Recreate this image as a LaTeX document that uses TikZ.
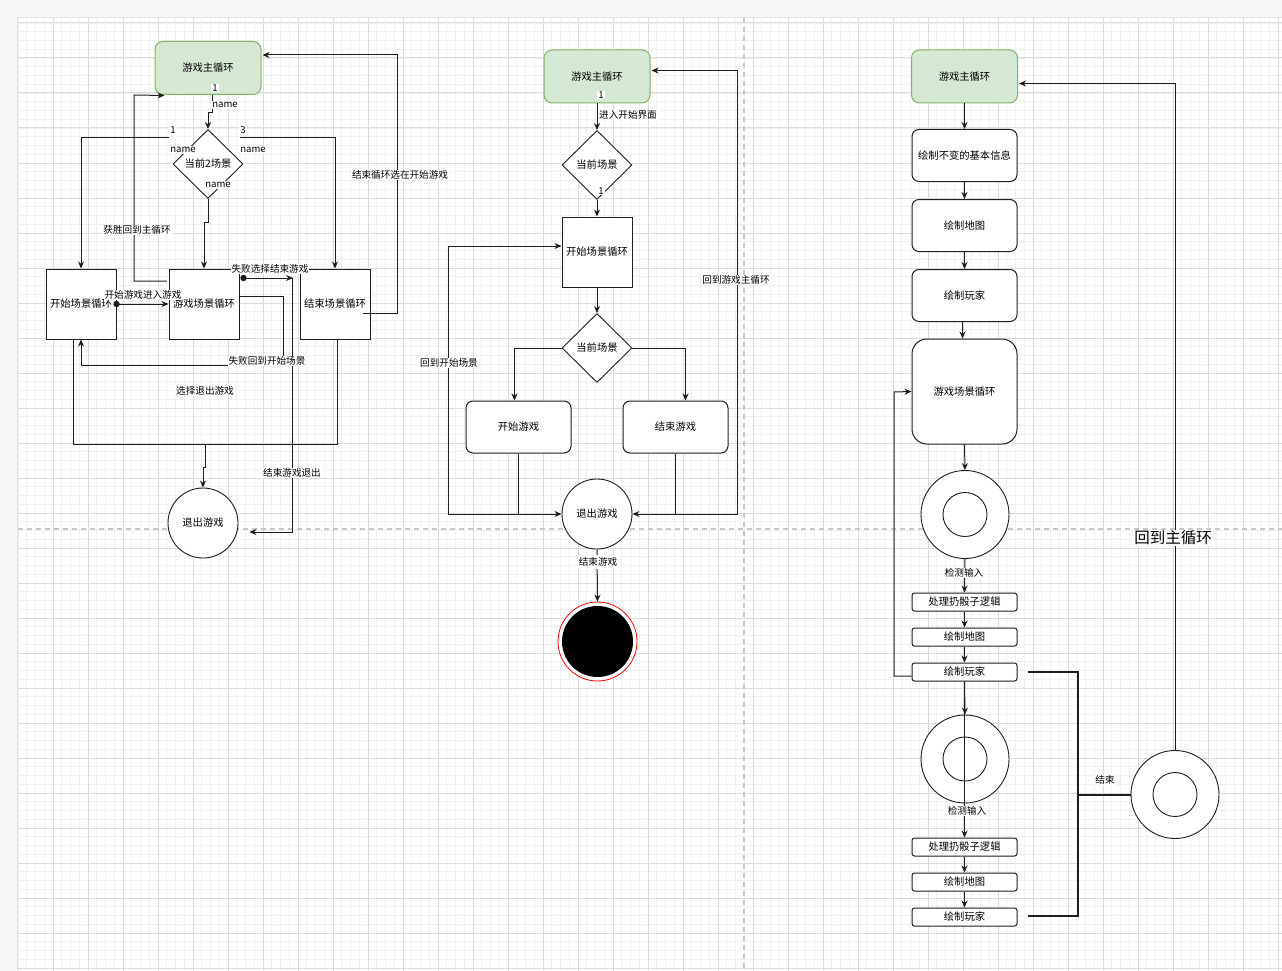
\documentclass[tikz,border=0pt]{standalone}
\usepackage{fontspec}
\setmainfont{Noto Sans CJK SC}
\usetikzlibrary{arrows.meta,shapes.geometric,calc}
\definecolor{lc}{HTML}{1E1E1E}
\definecolor{gfill}{HTML}{D5E8D4}
\definecolor{gedge}{HTML}{82B366}
\definecolor{minorc}{HTML}{F1F1F1}
\definecolor{majorc}{HTML}{DCDCDC}
\definecolor{outerc}{HTML}{F7F7F7}
\definecolor{pbc}{HTML}{C8C8C8}
\tikzset{
  edge/.style={draw=lc, line width=1pt, -{Stealth[length=7pt,width=6pt]}},
  ln/.style={draw=lc, line width=1pt},
  thick2/.style={draw=lc, line width=2pt},
  lbl/.style={fill=white, inner sep=1pt, font=\fontsize{9.6}{11}\selectfont, text=black},
  mainbox/.style={draw=gedge, fill=gfill, line width=1pt, rounded corners=8pt, minimum width=106pt, minimum height=53pt, inner sep=1pt},
  sq/.style={draw=lc, fill=white, line width=1pt, minimum width=70pt, minimum height=70pt, inner sep=0.5pt},
  dia/.style={diamond, draw=lc, fill=white, line width=0.9pt, minimum width=70pt, minimum height=69pt, inner sep=0pt, aspect=1},
  rbox/.style={draw=lc, fill=white, line width=1pt, rounded corners=7pt, minimum width=105pt, minimum height=52pt, inner sep=1pt},
  bigbox/.style={draw=lc, fill=white, line width=1pt, rounded corners=15pt, minimum width=105pt, minimum height=105pt, inner sep=1pt},
  sbox/.style={draw=lc, fill=white, line width=1pt, rounded corners=2.5pt, minimum width=105pt, minimum height=18pt, inner sep=0pt},
  circ/.style={circle, draw=lc, fill=white, line width=0.9pt, minimum size=70pt, inner sep=0pt},
  ring/.style={circle, draw=lc, fill=white, line width=0.9pt, minimum size=88pt, inner sep=0pt},
  minorl/.style={draw=minorc, line width=0.8pt},
  majorl/.style={draw=majorc, line width=1pt},
  pagebreak/.style={draw=pbc, line width=1.5pt, dash pattern=on 5pt off 4pt},
}
\begin{document}
\begin{tikzpicture}[x=1pt,y=-1pt, font=\fontsize{10.3}{12}\selectfont]
\useasboundingbox (0,0) rectangle (1282,971);
% background
\fill[outerc] (0,0) rectangle (1282,971);
\fill[white] (18,18) rectangle (1282,971);
\draw[draw=black!12, line width=1pt] (17.5,971) -- (17.5,17.5) -- (1282,17.5);
\foreach \k in {0,...,144} { \pgfmathsetmacro\xx{18+8.75*\k} \draw[minorl] (\xx,18) -- (\xx,971); }
\foreach \k in {0,...,108} { \pgfmathsetmacro\yy{23+8.75*\k} \draw[minorl] (18,\yy) -- (1282,\yy); }
\foreach \k in {1,...,36} { \pgfmathsetmacro\xx{18+35*\k} \draw[majorl] (\xx,18) -- (\xx,971); }
\foreach \k in {0,...,27} { \pgfmathsetmacro\yy{23+35*\k} \draw[majorl] (18,\yy) -- (1282,\yy); }
\draw[pagebreak] (744,18) -- (744,971);
\draw[pagebreak] (18,529) -- (1282,529);

% ================= LEFT =================
\node[mainbox] (lmain) at (208,68) {游戏主循环};
\node[dia] (ldia) at (208,164) {当前2场景};
\node[sq] (lstart) at (81,304) {开始场景循环};
\node[sq] (lgame) at (204,304) {游戏场景循环};
\node[sq] (lend) at (335,304) {结束场景循环};
\node[circ] (lexit) at (203,523) {退出游戏};
\coordinate (ld1) at (169,138);
\coordinate (ld3) at (240,138);
\coordinate (lfree) at (293,278);

\draw[edge] ($(lmain.south)+(4,0)$) -- ++(0,18) -| (ldia.north);
\draw[edge] (ld1) -| (lstart.north);
\draw[edge] (ld3) -| (lend.north);
\draw[edge] (ldia.south) -- ++(0,24) -| (lgame.north);
\draw[edge] ($(lgame.west)+(-2,-23)$) -- (134,281) -- (134,95) -- ($(lmain.south west)+(10,0.5)$);
\draw[edge] ($(lend.east)+(-8,9)$) -- (397,313) -- (397,55) -- ($(lmain.east)+(1,-13)$);
\draw[edge] (lstart.east) -- (lgame.west);
\fill[lc] (lstart.east) circle (3.2);
\draw[edge] ($(lgame.east)+(4,-26)$) -- (lfree);
\fill[lc] ($(lgame.east)+(4,-26)$) circle (3.2);
\draw[edge] ($(lgame.east)+(0,-8)$) -- (283,296) -- (283,365) -- (81,365) -- (lstart.south);
\draw[edge] ($(lfree)+(-1,0)$) -- (292,532) -- ($(lexit.east)+(11,9)$);
\draw[ln] ($(lstart.south)+(-8,0)$) -- (73,444) -- (337,444) -- ($(lend.south)+(2,0)$);
\draw[edge] (205,444) -- (205,467) -- (203,467) -- (lexit.north);

\node[lbl] at (215,88) {1};
\node[lbl] at (225,105) {name};
\node[lbl] at (173,130) {1};
\node[lbl] at (183,150) {name};
\node[lbl] at (243,130) {3};
\node[lbl] at (253,150) {name};
\node[lbl] at (218,185) {name};
\node[lbl] at (137,230) {获胜回到主循环};
\node[lbl] at (400,175) {结束循环选在开始游戏};
\node[lbl] at (143,295) {开始游戏进入游戏};
\node[lbl] at (270,269) {失败选择结束游戏};
\node[lbl] at (267,361) {失败回到开始场景};
\node[lbl] at (205,391) {选择退出游戏};
\node[lbl] at (292,473) {结束游戏退出};

% ================= MIDDLE =================
\node[mainbox] (mmain) at (597,76.5) {游戏主循环};
\node[dia] (mdia1) at (597,165) {当前场景};
\node[sq] (mstart) at (597,252) {开始场景循环};
\node[dia] (mdia2) at (597,348) {当前场景};
\node[rbox] (mgo) at (518.5,427) {开始游戏};
\node[rbox] (mover) at (675.5,427) {结束游戏};
\node[circ] (mexit) at (597,514) {退出游戏};
\node[circle, draw=red, line width=0.8pt, fill=white, minimum size=79pt, inner sep=0pt] (mfinal) at (597.5,641.5) {};
\fill[black] (mfinal.center) circle (35.5);

\draw[edge] (mmain.south) -- (mdia1.north);
\draw[edge] (mdia1.south) -- (mstart.north);
\draw[edge] (mstart.south) -- (mdia2.north);
\draw[edge] (mdia2.west) -| ($(mgo.north)+(-4,0)$);
\draw[edge] (mdia2.east) -| ($(mover.north)+(10,0)$);
\draw[edge] (mgo.south) |- (mexit.west);
\draw[edge] (518.5,514) -- (448,514) -- (448,246) -- ($(mstart.west)+(0,-6)$);
\draw[edge] (mover.south) |- (mexit.east);
\draw[edge] (675.5,514) -- (737,514) -- (737,70.5) -- ($(mmain.east)+(1,-6)$);
\draw[edge] (mexit.south) -- (mfinal.north);

\node[lbl] at (601,95) {1};
\node[lbl, anchor=west] at (598,115) {进入开始界面};
\node[lbl] at (601,191) {1};
\node[lbl] at (449,363) {回到开始场景};
\node[lbl] at (736,280) {回到游戏主循环};
\node[lbl, inner sep=3pt] at (598,562) {结束游戏};

% ================= RIGHT =================
\node[mainbox] (rmain) at (964.5,76.5) {游戏主循环};
\node[rbox] (rinfo) at (964.5,155.5) {绘制不变的基本信息};
\node[rbox] (rmap) at (964.5,225.5) {绘制地图};
\node[rbox] (rplayer) at (964.5,295.5) {绘制玩家};
\node[bigbox] (rloop) at (964.5,391.5) {游戏场景循环};
\node[ring] (rring1) at (965,514.5) {};
\draw[lc, line width=0.9pt] (rring1.center) circle (22);
\node[sbox] (rdice1) at (964.5,602) {处理扔骰子逻辑};
\node[sbox] (rmap1) at (964.5,637) {绘制地图};
\node[sbox] (rpl1) at (964.5,672) {绘制玩家};
\node[ring] (rring2) at (965,759) {};
\draw[lc, line width=0.9pt] (rring2.center) circle (22);
\node[sbox] (rdice2) at (964.5,847) {处理扔骰子逻辑};
\node[sbox] (rmap2) at (964.5,882) {绘制地图};
\node[sbox] (rpl2) at (964.5,917) {绘制玩家};
\node[ring] (rring3) at (1175,794.5) {};
\draw[lc, line width=0.9pt] (rring3.center) circle (22);

\draw[edge] (rmain.south) -- (rinfo.north);
\draw[edge] (rinfo.south) -- (rmap.north);
\draw[edge] (rmap.south) -- (rplayer.north);
\draw[edge] ($(rplayer.south)+(-2,0)$) -- ($(rloop.north)+(-2,0)$);
\draw[edge] (rloop.south) -- (rring1.north);
\draw[edge] (rring1.south) -- (rdice1.north);
\draw[edge] (rdice1.south) -- (rmap1.north);
\draw[edge] (rmap1.south) -- (rpl1.north);
\draw[edge] ($(rpl1.west)+(0,4)$) -- (894,676) -- (894,392) -- (rloop.west);
\draw[edge] (rpl1.south) -- (rring2.north);
\draw[edge] (rpl1.south) -- (rdice2.north);
\draw[edge] (rdice2.south) -- (rmap2.north);
\draw[edge] (rmap2.south) -- (rpl2.north);
\draw[thick2] ($(rpl1.east)+(10,0)$) -- (1078,672) -- (1078,916) -- ($(rpl2.east)+(10,-1)$);
\draw[thick2] (1078,794.5) -- (rring3.west);
\draw[edge] (rring3.north) -- (1175,83.5) -- ($(rmain.east)+(1,7)$);

\node[lbl] at (964,573) {检测输入};
\node[lbl] at (967,811) {检测输入};
\node[lbl] at (1105,780) {结束};
\node[lbl, font=\fontsize{15.5}{17}\selectfont] at (1173,538) {回到主循环};
\end{tikzpicture}
\end{document}
